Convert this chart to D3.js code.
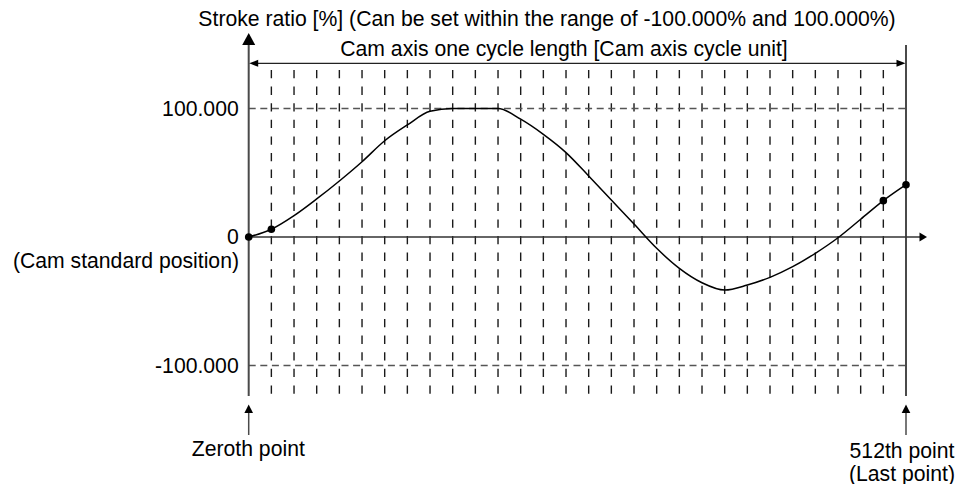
<!DOCTYPE html>
<html>
<head>
<meta charset="utf-8">
<script src="https://cdn.jsdelivr.net/npm/d3@7"></script>
<style>
  html, body { margin: 0; padding: 0; background: #fff; }
  svg { display: block; }
  text { font-family: "Liberation Sans", Arial, sans-serif; font-size: 21.2px; fill: #000; }
</style>
</head>
<body>
<svg id="chart" width="973" height="484"></svg>
<script>
// Cam data: section boundaries of one cam cycle and stroke ratio at each boundary
const sections = [0, 1, 2, 3, 4, 5, 6, 7, 8, 9, 10, 11, 12, 13, 14, 15, 16, 17, 18, 19, 20, 21, 22, 23, 24, 25, 26, 27, 28, 29];
const strokeRatio = [0, 6.0, 16.6, 29.6, 43.6, 58.6, 74.9, 87.2, 97.8, 100, 100, 100, 91.7, 79.9, 65.7,
                     47.5, 28.8, 10.1, -8.8, -24.4, -35.6, -41.3, -37.4, -31.4, -23.1, -12.7, -0.6, 13.8, 28.3, 40.7];
const markedSections = [0, 1, 28, 29];
const yTickValues = [100, 0, -100];
const yTickLabels = ["100.000", "0", "-100.000"];

const svg = d3.select("#chart");
const axisColor = "#4a4a4a";
const fontSize = 21.2;

const x = d3.scaleLinear().domain([0, 29]).range([248.7, 906]);
const y = d3.scaleLinear().domain([-100, 100]).range([365.5, 108.5]);

const gridTop = 70, gridBottom = 396;

// vertical dashed section lines
svg.append("g").selectAll("line")
  .data(sections.slice(1, -1))
  .join("line")
  .attr("x1", d => x(d)).attr("x2", d => x(d))
  .attr("y1", gridTop).attr("y2", gridBottom)
  .attr("stroke", "#1a1a1a").attr("stroke-width", 1.4)
  .attr("stroke-dasharray", "8.3,8.3");

// horizontal dashed limit lines at +/-100
svg.append("g").selectAll("line")
  .data([100, -100])
  .join("line")
  .attr("x1", x(0)).attr("x2", x(29))
  .attr("y1", d => y(d)).attr("y2", d => y(d))
  .attr("stroke", "#555").attr("stroke-width", 1.6)
  .attr("stroke-dasharray", "7,4.6");

// y axis tick labels
const yAxis = d3.axisLeft(y)
  .tickValues(yTickValues)
  .tickFormat((d, i) => yTickLabels[i])
  .tickSize(0)
  .tickPadding(10);
const gy = svg.append("g").attr("transform", `translate(${x(0)},0)`).call(yAxis);
gy.select(".domain").remove();
gy.selectAll("text").attr("font-size", fontSize).attr("font-family", "Liberation Sans, Arial, sans-serif").attr("fill", "#000");

// y axis line with arrow
svg.append("line")
  .attr("x1", x(0)).attr("x2", x(0))
  .attr("y1", 44).attr("y2", gridBottom)
  .attr("stroke", axisColor).attr("stroke-width", 2);
svg.append("path")
  .attr("d", `M${x(0)},33 L${x(0) - 6.5},45 L${x(0) + 6.5},45 Z`)
  .attr("fill", "#000");

// last point vertical line
svg.append("line")
  .attr("x1", x(29)).attr("x2", x(29))
  .attr("y1", 45).attr("y2", gridBottom)
  .attr("stroke", axisColor).attr("stroke-width", 2);

// zero line with arrow
svg.append("line")
  .attr("x1", x(0)).attr("x2", 921)
  .attr("y1", y(0)).attr("y2", y(0))
  .attr("stroke", "#333").attr("stroke-width", 1.5);
svg.append("path")
  .attr("d", `M927,${y(0)} L919.5,${y(0) - 4.5} L919.5,${y(0) + 4.5} Z`)
  .attr("fill", "#000");

// one cycle length dimension arrow
const dimY = 63.3;
svg.append("line")
  .attr("x1", x(0) + 4).attr("x2", x(29) - 4)
  .attr("y1", dimY).attr("y2", dimY)
  .attr("stroke", "#222").attr("stroke-width", 1.3);
svg.append("path")
  .attr("d", `M${x(0) + 0.5},${dimY} L${x(0) + 9.5},${dimY - 3.5} L${x(0) + 9.5},${dimY + 3.5} Z`)
  .attr("fill", "#000");
svg.append("path")
  .attr("d", `M${x(29) - 0.5},${dimY} L${x(29) - 9.5},${dimY - 3.5} L${x(29) - 9.5},${dimY + 3.5} Z`)
  .attr("fill", "#000");

// stroke curve
const line = d3.line()
  .x((d, i) => x(sections[i]))
  .y(d => y(d))
  .curve(d3.curveMonotoneX);
svg.append("path")
  .datum(strokeRatio)
  .attr("d", line)
  .attr("fill", "none")
  .attr("stroke", "#000")
  .attr("stroke-width", 1.5);

// marked points
svg.append("g").selectAll("circle")
  .data(markedSections)
  .join("circle")
  .attr("cx", d => x(d))
  .attr("cy", d => y(strokeRatio[d]))
  .attr("r", 3.8)
  .attr("fill", "#000");

// bottom arrows for zeroth and last points
[0, 29].forEach(s => {
  svg.append("line")
    .attr("x1", x(s)).attr("x2", x(s))
    .attr("y1", 412).attr("y2", 435)
    .attr("stroke", axisColor).attr("stroke-width", 1.5);
  svg.append("path")
    .attr("d", `M${x(s)},404.5 L${x(s) - 4.3},413 L${x(s) + 4.3},413 Z`)
    .attr("fill", "#000");
});

// titles and annotations
svg.append("text").attr("x", 547).attr("y", 26).attr("text-anchor", "middle")
  .text("Stroke ratio [%] (Can be set within the range of -100.000% and 100.000%)");
svg.append("text").attr("x", 564).attr("y", 55.5).attr("text-anchor", "middle")
  .text("Cam axis one cycle length [Cam axis cycle unit]");
svg.append("text").attr("x", 239).attr("y", 268).attr("text-anchor", "end")
  .text("(Cam standard position)");
svg.append("text").attr("x", 248.3).attr("y", 456).attr("text-anchor", "middle")
  .text("Zeroth point");
svg.append("text").attr("x", 902).attr("y", 458).attr("text-anchor", "middle")
  .attr("font-size", 20.2)
  .text("512th point");
svg.append("text").attr("x", 902).attr("y", 480.5).attr("text-anchor", "middle")
  .attr("font-size", 20.2)
  .text("(Last point)");
</script>
</body>
</html>
